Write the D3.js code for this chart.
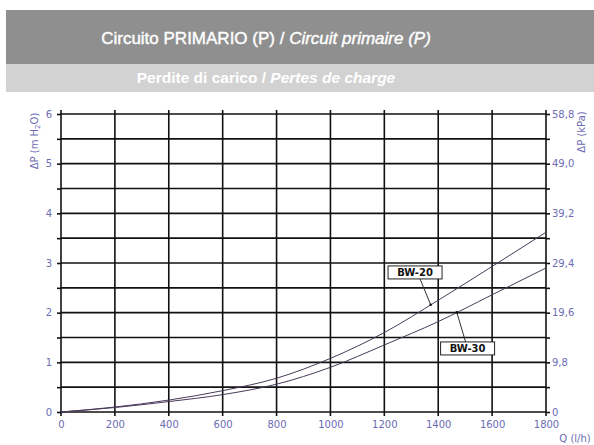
<!DOCTYPE html>
<html>
<head>
<meta charset="utf-8">
<script src="https://cdn.jsdelivr.net/npm/d3@7"></script>
<style>
  body { margin: 0; background: #fff; }
  svg { display: block; }
</style>
</head>
<body>
<div id="chart"></div>
<script>
const flow = [0, 200, 400, 600, 800, 1000, 1200, 1400, 1600, 1800];
const bw20 = [0, 0.1, 0.24, 0.43, 0.68, 1.08, 1.6, 2.25, 2.93, 3.62];
const bw30 = [0, 0.09, 0.21, 0.35, 0.56, 0.9, 1.35, 1.82, 2.36, 2.9];
const seriesNames = ["BW-20", "BW-30"];
// label box centre (Q, m H2O) and the Q where the pointer meets the curve
const labelQ = [1314, 1509];
const labelP = [2.81, 1.28];
const pointerQ = [1372, 1469];
const kpaTicks = [0, 9.8, 19.6, 29.4, 39.2, 49.0, 58.8];
const mTicks = d3.range(0, 6.01, 0.5);

const width = 594;
const height = 445;
const plotLeft = 61, plotRight = 546, plotTop = 114, plotBottom = 412;
const labelColor = "#6c6cb4";

const svg = d3.select("#chart").append("svg")
  .attr("width", width).attr("height", height)
  .attr("viewBox", [0, 0, width, height]);

// title bands
svg.append("rect").attr("x", 6).attr("y", 10).attr("width", width - 6).attr("height", 54).attr("fill", "#8f8f8f");
svg.append("rect").attr("x", 6).attr("y", 64).attr("width", width - 6).attr("height", 28).attr("fill", "#d2d2d2");

const title = svg.append("text")
  .attr("x", 266).attr("y", 44)
  .attr("text-anchor", "middle")
  .attr("fill", "#fff")
  .attr("stroke", "#fff").attr("stroke-width", 0.4)
  .style("font", "17px 'Liberation Sans', Arial, sans-serif");
title.append("tspan").text("Circuito PRIMARIO (P) / ");
title.append("tspan").attr("font-style", "italic").text("Circuit primaire (P)");

const sub = svg.append("text")
  .attr("x", 266).attr("y", 83)
  .attr("text-anchor", "middle")
  .attr("fill", "#fff")
  .style("font", "bold 15.5px 'Liberation Sans', Arial, sans-serif");
sub.append("tspan").text("Perdite di carico / ");
sub.append("tspan").attr("font-style", "italic").text("Pertes de charge");

const x = d3.scaleLinear([0, 1800], [plotLeft, plotRight]);
const y = d3.scaleLinear([0, 6], [plotBottom, plotTop]);
const yk = d3.scaleLinear([0, 58.8], [plotBottom, plotTop]);

// grid
svg.append("g")
  .selectAll("line")
  .data(mTicks)
  .join("line")
  .attr("x1", plotLeft).attr("x2", plotRight)
  .attr("y1", (d) => y(d)).attr("y2", (d) => y(d))
  .attr("stroke", "#111").attr("stroke-width", 1.6);

svg.append("g")
  .selectAll("line")
  .data(flow)
  .join("line")
  .attr("x1", (d) => x(d)).attr("x2", (d) => x(d))
  .attr("y1", plotTop - 4).attr("y2", plotBottom + 4)
  .attr("stroke", "#111").attr("stroke-width", 1.6);

const styleAxis = (g) => {
  g.select(".domain").remove();
  g.selectAll(".tick line").attr("stroke", "#111").attr("stroke-width", 1.6);
  g.selectAll("text")
    .attr("fill", labelColor)
    .style("font", "10px 'DejaVu Sans', sans-serif");
};

svg.append("g")
  .attr("transform", `translate(${plotLeft},0)`)
  .call(d3.axisLeft(y).tickValues(mTicks).tickSize(4).tickPadding(5)
    .tickFormat((d) => (Number.isInteger(d) ? d : "")))
  .call(styleAxis);

svg.append("g")
  .attr("transform", `translate(${plotRight},0)`)
  .call(d3.axisRight(y).tickValues(mTicks).tickSize(4).tickFormat(""))
  .call(styleAxis);

svg.append("g")
  .attr("transform", `translate(${plotRight},0)`)
  .call(d3.axisRight(yk).tickValues(kpaTicks).tickSize(0).tickPadding(6)
    .tickFormat((d) => (d === 0 ? "0" : d.toFixed(1).replace(".", ","))))
  .call(styleAxis);

svg.append("g")
  .attr("transform", `translate(0,${plotBottom})`)
  .call(d3.axisBottom(x).tickValues(flow).tickSize(0).tickPadding(9)
    .tickFormat((d) => d))
  .call(styleAxis);

// axis titles
svg.append("text")
  .attr("transform", "translate(38,141) rotate(-90)")
  .attr("text-anchor", "middle")
  .attr("fill", labelColor)
  .style("font", "10px 'DejaVu Sans', sans-serif")
  .html("ΔP (m H<tspan font-size='7' dy='2'>2</tspan><tspan dy='-2'>O)</tspan>");

svg.append("text")
  .attr("transform", "translate(585,132) rotate(-90)")
  .attr("text-anchor", "middle")
  .attr("fill", labelColor)
  .style("font", "10px 'DejaVu Sans', sans-serif")
  .text("ΔP (kPa)");

svg.append("text")
  .attr("x", 575).attr("y", 442)
  .attr("text-anchor", "middle")
  .attr("fill", labelColor)
  .style("font", "10px 'DejaVu Sans', sans-serif")
  .text("Q (l/h)");

// curves
const curves = [bw20, bw30];
const line = d3.line()
  .x((d, i) => x(flow[i]))
  .y((d) => y(d))
  .curve(d3.curveMonotoneX);

curves.forEach((values) => {
  svg.append("path")
    .attr("fill", "none")
    .attr("stroke", "#4a3a5a")
    .attr("stroke-width", 1)
    .attr("d", line(values));
});

// labels with pointers
seriesNames.forEach((name, i) => {
  const interp = d3.scaleLinear(flow, curves[i]);
  const px = x(pointerQ[i]);
  const py = y(interp(pointerQ[i]));
  const cx = x(labelQ[i]);
  const cy = y(labelP[i]);
  const boxW = 54, boxH = 13;
  const edgeY = cy + (py > cy ? boxH / 2 : -boxH / 2);
  svg.append("line")
    .attr("x1", cx + (i === 0 ? 5 : -2)).attr("y1", edgeY)
    .attr("x2", px).attr("y2", py)
    .attr("stroke", "#333").attr("stroke-width", 1);
  svg.append("circle").attr("cx", px).attr("cy", py).attr("r", 1.3).attr("fill", "#111");
  svg.append("rect")
    .attr("x", cx - boxW / 2).attr("y", cy - boxH / 2)
    .attr("width", boxW).attr("height", boxH)
    .attr("fill", "#fff").attr("stroke", "#222").attr("stroke-width", 1);
  svg.append("text")
    .attr("x", cx).attr("y", cy + 4)
    .attr("text-anchor", "middle")
    .attr("fill", "#111")
    .style("font", "bold 10px 'DejaVu Sans', sans-serif")
    .text(name);
});
</script>
</body>
</html>
